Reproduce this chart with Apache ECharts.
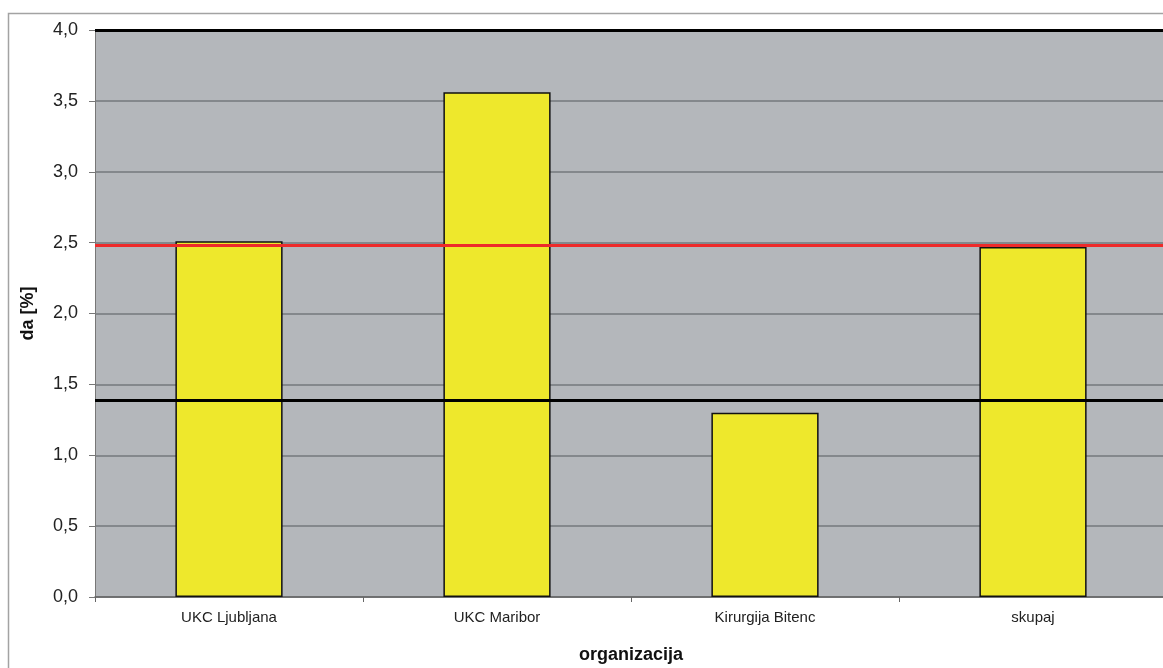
<!DOCTYPE html>
<html>
<head>
<meta charset="utf-8">
<script src="https://cdn.jsdelivr.net/npm/echarts@6/dist/echarts.min.js"></script>
<style>
  html, body { margin: 0; padding: 0; background: #fff; }
  #chart { width: 1163px; height: 668px; }
</style>
</head>
<body>
<div id="chart"></div>
<script>
// podatki
const categories = ['UKC Ljubljana', 'UKC Maribor', 'Kirurgija Bitenc', 'skupaj'];
const values = [2.51, 3.56, 1.30, 2.47];
const blackLines = [4.0, 1.39];
const redLine = [2.48];

const chart = echarts.init(document.getElementById('chart'));

let refLines = [];
blackLines.forEach((v) => {
  refLines.push({ yAxis: v, lineStyle: { color: '#000', width: 3, type: 'solid' } });
});
redLine.forEach((v) => {
  refLines.push({ yAxis: v, lineStyle: { color: '#ee2a2a', width: 3, type: 'solid' } });
});

const option = {
  animation: false,
  textStyle: { fontFamily: 'Liberation Sans, Arial, sans-serif' },
  graphic: [{
    type: 'rect',
    shape: { x: 8.5, y: 13.5, width: 1200, height: 700 },
    style: { fill: 'none', stroke: '#a3a3a3', lineWidth: 1.5 },
    z: -10
  }],
  grid: {
    left: 95, top: 30, bottom: 71,
    width: 1072,  // plot runs a bit past the right edge
    outerBoundsMode: 'none',
    show: true,
    backgroundColor: '#b4b7bb',
    borderWidth: 0
  },
  xAxis: {
    type: 'category',
    data: categories,
    name: 'organizacija',
    nameLocation: 'middle',
    nameGap: 49,
    nameTextStyle: { fontSize: 18, fontWeight: 'bold', color: '#111' },
    axisLine: { lineStyle: { color: '#666', width: 1.5 } },
    axisTick: { show: true, alignWithLabel: false, length: 5, lineStyle: { color: '#666' } },
    axisLabel: { fontSize: 15, color: '#222', margin: 13 }
  },
  yAxis: {
    type: 'value',
    min: 0, max: 4, interval: 0.5,
    name: 'da [%]',
    nameLocation: 'middle',
    nameGap: 58,
    nameRotate: 90,
    nameTextStyle: { fontSize: 18, fontWeight: 'bold', color: '#111' },
    axisLine: { show: true, lineStyle: { color: '#777', width: 1 } },
    axisTick: { show: true, length: 6, lineStyle: { color: '#777' } },
    axisLabel: {
      fontSize: 18, color: '#222', margin: 17,
      formatter: (v) => v.toFixed(1).replace('.', ',')
    },
    splitLine: { show: true, lineStyle: { color: '#75787c', width: 1.5 } }
  },
  series: [{
    type: 'bar',
    data: values,
    barWidth: '40%',
    itemStyle: { color: '#eee82c', borderColor: '#111', borderWidth: 1.5 },
    markLine: {
      silent: true,
      symbol: 'none',
      label: { show: false },
      data: refLines
    }
  }]
};

chart.setOption(option);
</script>
</body>
</html>
